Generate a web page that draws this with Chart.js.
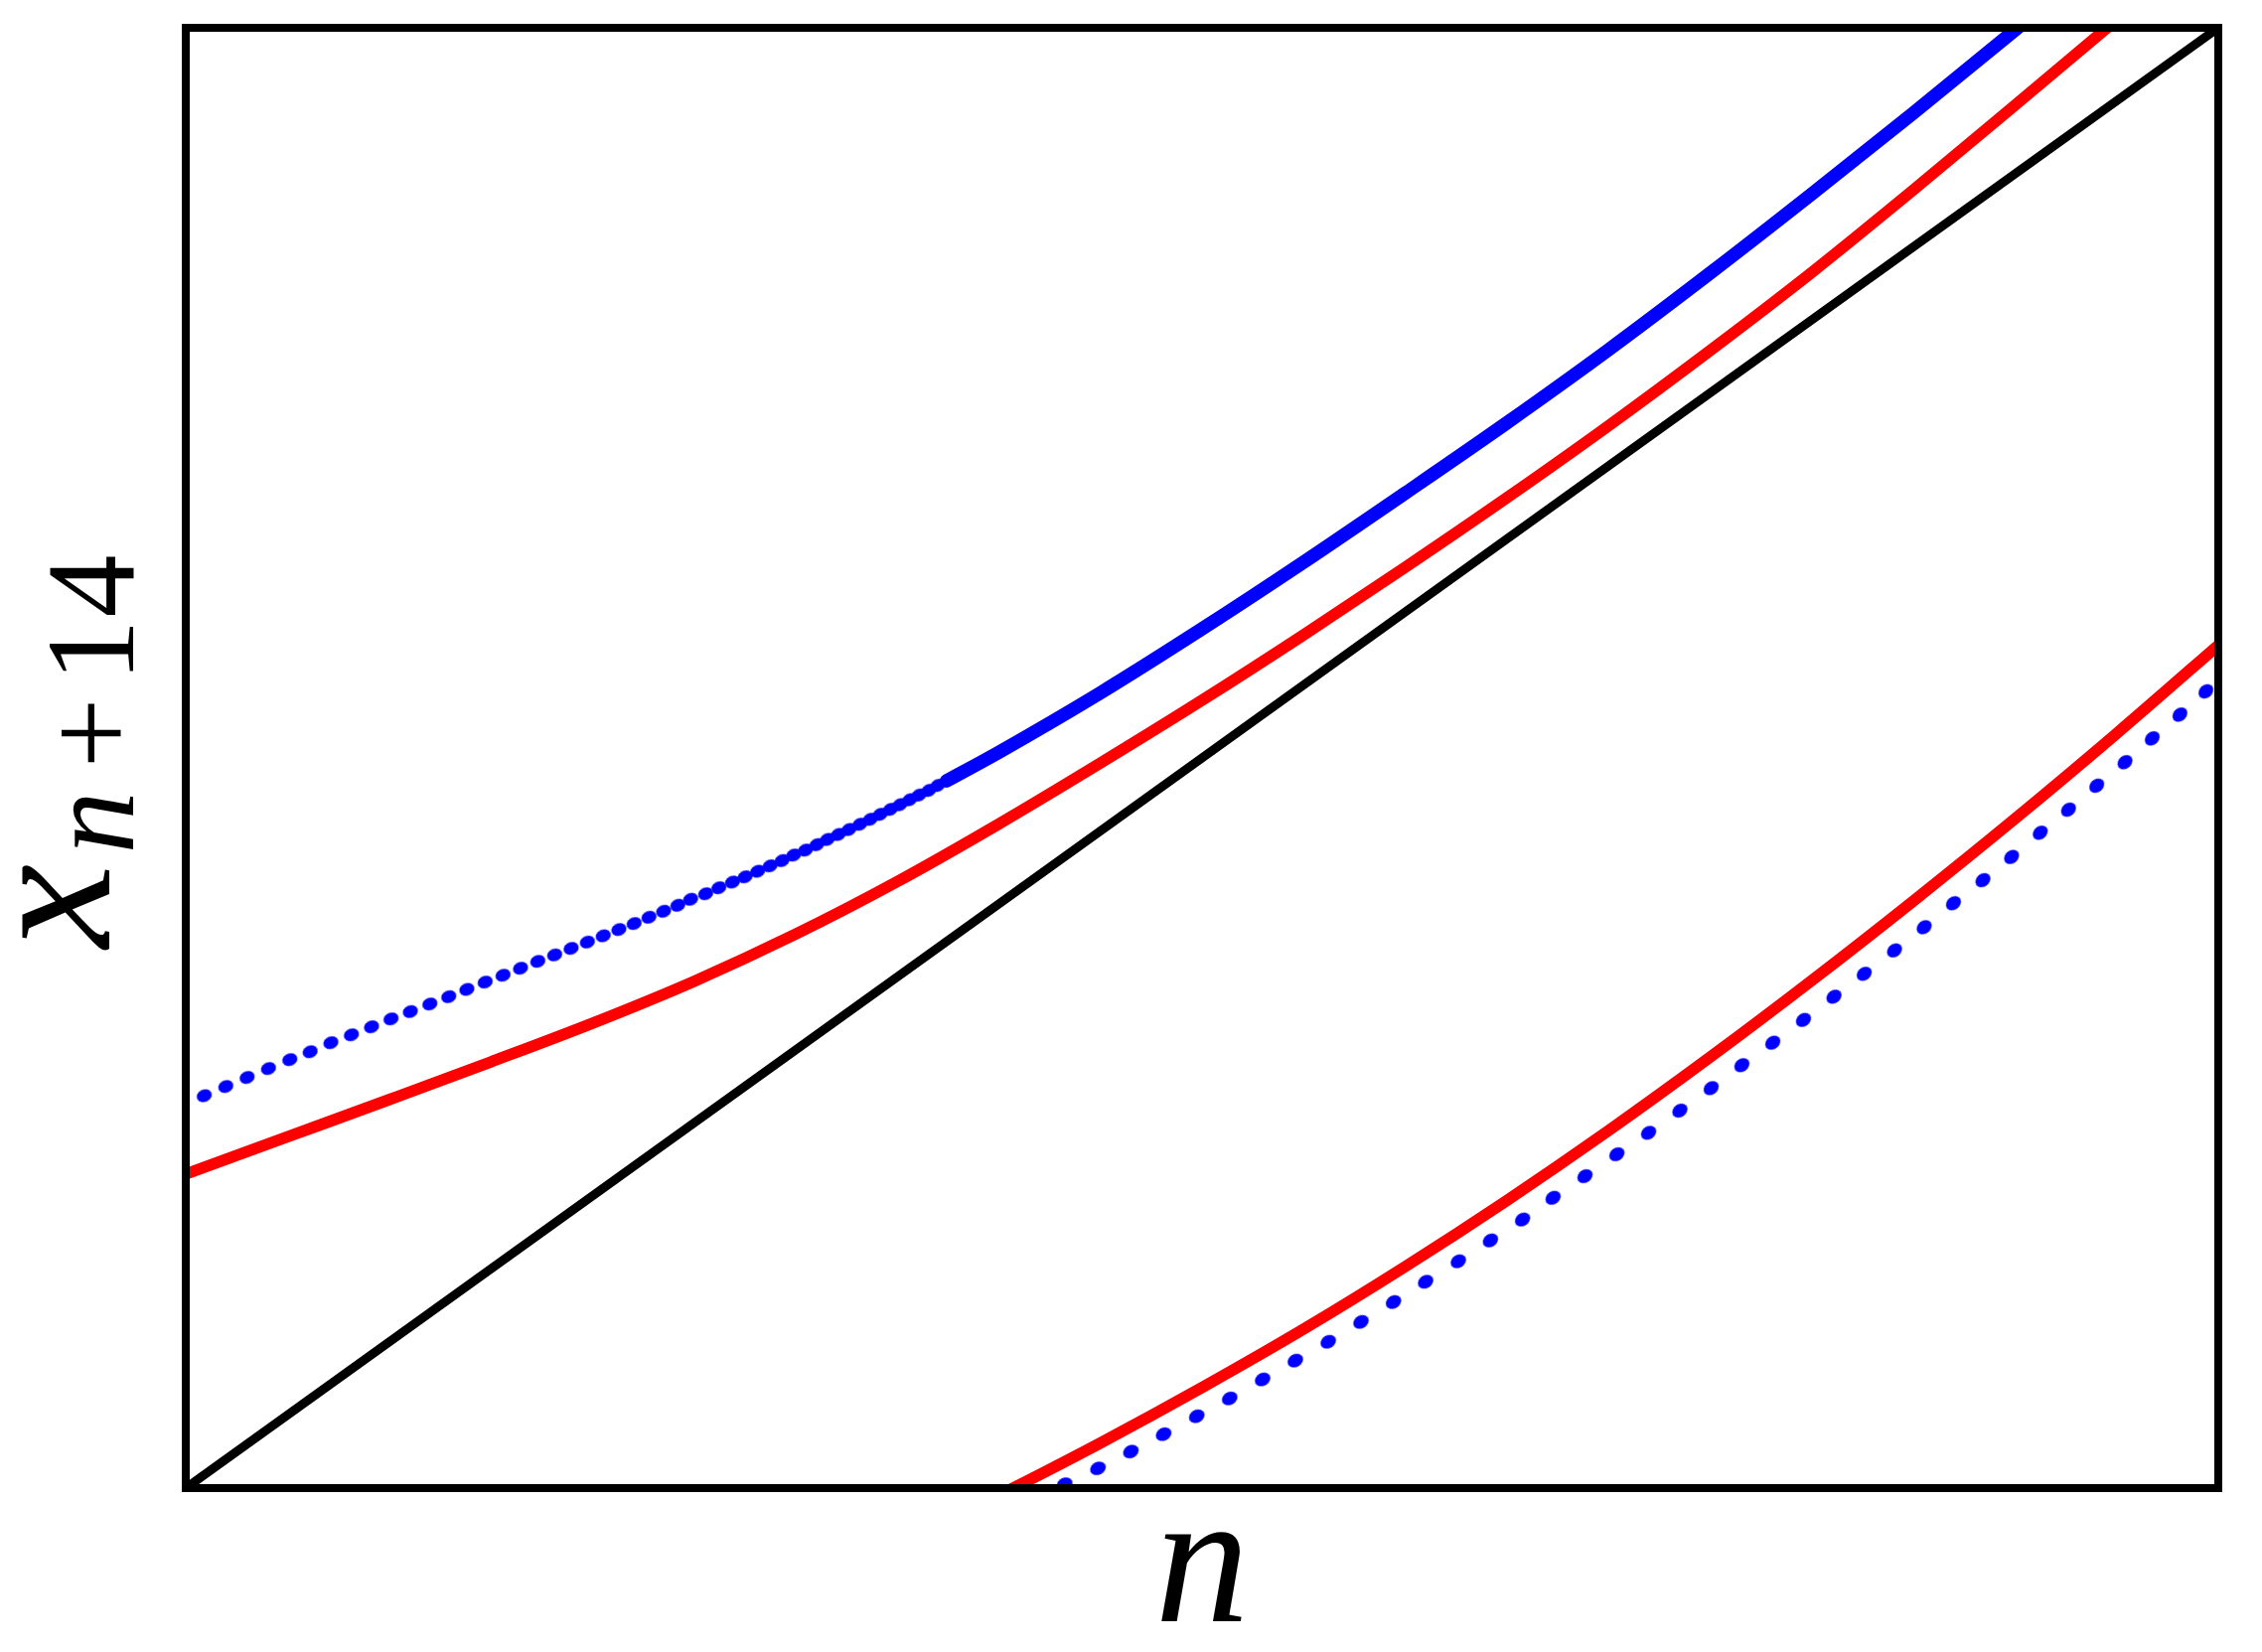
<!DOCTYPE html>
<html>
<head>
<meta charset="utf-8">
<script src="https://cdn.jsdelivr.net/npm/chart.js@4.4.0/dist/chart.umd.min.js"></script>
<style>
html,body{margin:0;padding:0;background:#ffffff;}
#wrap{width:2277px;height:1663px;position:relative;}
</style>
</head>
<body>
<div id="wrap"><canvas id="c" width="2277" height="1663"></canvas></div>
<script>
// ---- data ----
const xLabel = "n";
const yLabelMain = "x";
const yLabelSubVar = "n";
const yLabelSubRest = ["+", "1", "4"];

const diagonalX = [0, 1];
const diagonalY = [0, 1];

const redUpperX = [0, 0.05, 0.10, 0.15, 0.20, 0.25, 0.30, 0.35, 0.40, 0.45, 0.50,
  0.55, 0.60, 0.65, 0.70, 0.75, 0.80, 0.85, 0.90, 0.95, 1.0];
const redUpperY = [0.2150, 0.2405, 0.2660, 0.2918, 0.3183, 0.3470, 0.3793, 0.4153, 0.4548, 0.4965, 0.5395,
  0.5843, 0.6306, 0.6782, 0.7275, 0.7790, 0.8325, 0.8890, 0.9470, 1.0055, 1.064];

const redLowerX = [0.39, 0.4071, 0.45, 0.50, 0.55, 0.60, 0.65, 0.70, 0.75, 0.80, 0.85, 0.90, 0.95, 1.0, 1.02];
const redLowerY = [-0.0119, 0, 0.0309, 0.0689, 0.1089, 0.1517, 0.1970, 0.2448, 0.2951, 0.3476, 0.4021, 0.4584, 0.5168, 0.5772, 0.6015];

const blueUpperDotsX = [0.0091,0.0197,0.0302,0.0407,0.0512,0.0612,0.0714,0.0815,0.0914,0.1010,
  0.1105,0.1201,0.1294,0.1383,0.1473,0.1561,0.1647,0.1732,0.1815,0.1896,
  0.1976,0.2054,0.2131,0.2206,0.2279,0.2351,0.2421,0.2484,
  0.2558,0.2623,0.2690,0.2752,0.2814,0.2875,0.2934,0.2991,0.3049,0.3105,
  0.3157,0.3211,0.3263,0.3317,0.3368,0.3417,0.3467,0.3514,0.3562,0.3608,
  0.3656,0.3700,0.3744];
const blueUpperDotsY = [0.2687,0.2750,0.2812,0.2873,0.2934,0.2988,0.3050,0.3104,0.3159,0.3213,
  0.3263,0.3315,0.3365,0.3415,0.3465,0.3512,0.3560,0.3607,0.3651,0.3696,
  0.3739,0.3782,0.3825,0.3866,0.3909,0.3950,0.3991,0.4032,
  0.4070,0.4111,0.4150,0.4186,0.4224,0.4261,0.4297,0.4335,0.4369,0.4406,
  0.4442,0.4476,0.4510,0.4546,0.4580,0.4614,0.4648,0.4680,0.4714,0.4746,
  0.4778,0.4812,0.4844];

// dense part of the upper blue orbit (points merge into a solid band)
const blueUpperDenseX = [0.3744, 0.40, 0.45, 0.50, 0.55, 0.60, 0.65, 0.70, 0.75, 0.80, 0.85, 0.90, 0.95];
const blueUpperDenseY = [0.4844, 0.5039, 0.5446, 0.5884, 0.6341, 0.6814, 0.7295, 0.7795, 0.8320, 0.8862, 0.9417, 0.9985, 1.056];

const blueLowerX = [0.4324,0.4488,0.4650,0.4811,0.4974,0.5136,0.5298,0.5459,0.5621,0.5782,
  0.5942,0.6100,0.6261,0.6419,0.6577,0.6727,0.6884,0.7041,0.7197,0.7351,
  0.7505,0.7656,0.7808,0.7959,0.8109,0.8258,0.8407,0.8553,0.8697,0.8842,
  0.8983,0.9124,0.9263,0.9402,0.9541,0.9675,0.9811,0.9939];
const blueLowerY = [0.0027,0.0135,0.0250,0.0369,0.0492,0.0614,0.0744,0.0873,0.1002,0.1138,
  0.1274,0.1413,0.1553,0.1696,0.1839,0.1988,0.2136,0.2286,0.2433,0.2585,
  0.2739,0.2896,0.3050,0.3206,0.3365,0.3522,0.3682,0.3841,0.4005,0.4163,
  0.4322,0.4488,0.4646,0.4810,0.4971,0.5134,0.5297,0.5456];

// ---- helpers ----
function pts(xs, ys){ return xs.map((x,i)=>({x:x, y:ys[i]})); }

const BLUE = "#0000ff", RED = "#ff0000", BLACK = "#000000";

// elliptical dot marker (dotted-line look), rotated along the orbit
function ellipseMarker(w, h){
  const c = document.createElement("canvas");
  c.width = Math.ceil(w) + 2; c.height = Math.ceil(h) + 2;
  const g = c.getContext("2d");
  g.fillStyle = BLUE;
  g.beginPath();
  g.ellipse(c.width/2, c.height/2, w/2, h/2, 0, 0, Math.PI*2);
  g.fill();
  return c;
}
const upperMarker = ellipseMarker(15.5, 12.5);
const lowerMarker = ellipseMarker(16.5, 13);

function tangentRotation(ctx){
  const ch = ctx.chart, ds = ch.data.datasets[ctx.datasetIndex].data;
  const i = ctx.dataIndex;
  if (!ds || !ds.length || i === undefined) return 0;
  const a = ds[Math.max(0, i-1)], b = ds[Math.min(ds.length-1, i+1)];
  const sx = ch.scales.x, sy = ch.scales.y;
  const dx = sx.getPixelForValue(b.x) - sx.getPixelForValue(a.x);
  const dy = sy.getPixelForValue(b.y) - sy.getPixelForValue(a.y);
  return Math.atan2(dy, dx) * 180 / Math.PI;
}

const framePlugin = {
  id: "frameAndLabels",
  afterDraw(chart){
    const ctx = chart.ctx, a = chart.chartArea;
    ctx.save();
    ctx.strokeStyle = BLACK;
    ctx.lineWidth = 8;
    ctx.lineJoin = "miter";
    ctx.strokeRect(a.left, a.top, a.right - a.left, a.bottom - a.top);

    ctx.fillStyle = BLACK;
    ctx.textAlign = "center";
    ctx.textBaseline = "alphabetic";
    // x-axis label
    ctx.font = "italic 190px 'Liberation Serif'";
    ctx.fillText(xLabel, (a.left + a.right)/2, a.bottom + 134);

    // y-axis label, rotated
    const cy = (a.top + a.bottom)/2;
    ctx.rotate(-Math.PI/2);
    ctx.font = "italic 190px 'Liberation Serif'";
    ctx.fillText(yLabelMain, -(cy + 149), a.left - 77);
    ctx.font = "italic 126px 'Liberation Serif'";
    ctx.fillText(yLabelSubVar, -(cy + 65), a.left - 53);
    ctx.font = "126px 'Liberation Serif'";
    const subPos = [-25, -108, -173];
    yLabelSubRest.forEach((t,i)=>{
      ctx.fillText(t, -(cy + subPos[i]), a.left - 53);
    });
    ctx.restore();
  }
};

new Chart(document.getElementById("c"), {
  type: "scatter",
  data: {
    datasets: [
      { label: "identity", type: "line", data: pts(diagonalX, diagonalY),
        borderColor: BLACK, borderWidth: 9, pointRadius: 0, fill: false, clip: 0, order: 5 },
      { label: "map upper", type: "line", data: pts(redUpperX, redUpperY),
        borderColor: RED, borderWidth: 11.5, pointRadius: 0, fill: false,
        cubicInterpolationMode: "monotone", clip: 0, order: 4 },
      { label: "map lower", type: "line", data: pts(redLowerX, redLowerY),
        borderColor: RED, borderWidth: 11.5, pointRadius: 0, fill: false,
        cubicInterpolationMode: "monotone", clip: 0, order: 4 },
      { label: "orbit upper dense", type: "line", data: pts(blueUpperDenseX, blueUpperDenseY),
        borderColor: BLUE, borderWidth: 13.5, pointRadius: 0, fill: false, borderCapStyle: "round",
        cubicInterpolationMode: "monotone", clip: 0, order: 2 },
      { label: "orbit upper", data: pts(blueUpperDotsX, blueUpperDotsY),
        backgroundColor: BLUE, borderWidth: 0, pointRadius: 7.3, pointHoverRadius: 7.3,
        pointStyle: upperMarker, rotation: tangentRotation, clip: 0, order: 1 },
      { label: "orbit lower", data: pts(blueLowerX, blueLowerY),
        backgroundColor: BLUE, borderWidth: 0, pointRadius: 7.8, pointHoverRadius: 7.8,
        pointStyle: lowerMarker, rotation: tangentRotation, clip: 0, order: 1 }
    ]
  },
  options: {
    responsive: false,
    animation: false,
    devicePixelRatio: 1,
    layout: { padding: { left: 187, right: 44, top: 28, bottom: 165 } },
    plugins: { legend: { display: false }, tooltip: { enabled: false } },
    events: [],
    scales: {
      x: { type: "linear", min: 0, max: 1, display: false },
      y: { type: "linear", min: 0, max: 1, display: false }
    }
  },
  plugins: [framePlugin]
});
</script>
</body>
</html>
